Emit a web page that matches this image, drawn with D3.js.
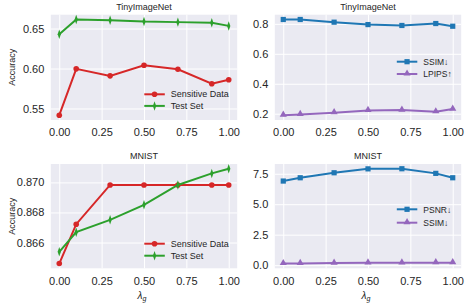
<!DOCTYPE html>
<html>
<head>
<meta charset="utf-8">
<script src="https://cdn.jsdelivr.net/npm/d3@7"></script>
<style>
  body { margin: 0; background: #fff; }
  text { font-family: "Liberation Sans", Arial, sans-serif; fill: #262626; }
</style>
</head>
<body>
<div id="chart"></div>
<script>
// lambda_g values on the x axis
var lambdas = [0, 0.1, 0.3, 0.5, 0.7, 0.9, 1.0];

// TinyImageNet
var tinySensitive = [0.5416, 0.5996, 0.5908, 0.6040, 0.5990, 0.5810, 0.5860];
var tinyTest = [0.6428, 0.6613, 0.6604, 0.6587, 0.6580, 0.6571, 0.6533];
var tinySsim = [0.829, 0.829, 0.811, 0.795, 0.789, 0.802, 0.784];
var tinyLpips = [0.190, 0.195, 0.207, 0.222, 0.224, 0.213, 0.231];

// MNIST
var mnistSensitive = [0.8646, 0.86722, 0.86983, 0.86983, 0.86983, 0.86983, 0.86983];
var mnistTest = [0.86538, 0.86669, 0.86751, 0.86851, 0.86983, 0.8706, 0.87091];
var mnistPsnr = [6.90, 7.17, 7.58, 7.90, 7.91, 7.53, 7.17];
var mnistSsim = [0.13, 0.14, 0.17, 0.19, 0.19, 0.20, 0.20];

// tick labels
var xTicks = [0, 0.25, 0.5, 0.75, 1.0];
var tinyAccTicks = [0.55, 0.60, 0.65];
var tinyQualTicks = [0.2, 0.4, 0.6, 0.8];
var mnistAccTicks = [0.866, 0.868, 0.870];
var mnistQualTicks = [0.0, 2.5, 5.0, 7.5];

var svgWidth = 465;
var svgHeight = 303;

var svg = d3.select("#chart")
    .append("svg")
    .attr("width", svgWidth)
    .attr("height", svgHeight);

var colors = {red: "#d62728", green: "#2ca02c", blue: "#1f77b4", purple: "#9467bd"};

function drawMarker(g, kind, x, y, color) {
    if (kind === "circle") {
        g.append("circle").attr("cx", x).attr("cy", y).attr("r", 2.8).attr("fill", color);
    } else if (kind === "square") {
        g.append("rect").attr("x", x - 2.6).attr("y", y - 2.6)
            .attr("width", 5.2).attr("height", 5.2).attr("fill", color);
    } else if (kind === "triangle") {
        g.append("path").attr("d", d3.symbol().type(d3.symbolTriangle).size(22)())
            .attr("transform", `translate(${x},${y - 0.5})`).attr("fill", color);
    } else if (kind === "thindiamond") {
        g.append("path").attr("d", d3.symbol().type(d3.symbolDiamond).size(26)())
            .attr("transform", `translate(${x},${y}) scale(0.6,1)`).attr("fill", color);
    }
}

function drawPanel(p) {
    var width = p.right - p.left;
    var height = p.bottom - p.top;
    var g = svg.append("g").attr("transform", `translate(${p.left},${p.top})`);

    var allVals = p.series.reduce((a, s) => a.concat(s.values), []);
    var ymin = d3.min(allVals), ymax = d3.max(allVals);
    var pad = (ymax - ymin) * 0.05;

    var x = d3.scaleLinear().domain([-0.05, 1.05]).range([0, width]);
    var y = d3.scaleLinear().domain([ymin - pad, ymax + pad]).range([height, 0]);

    g.append("rect").attr("width", width).attr("height", height).attr("fill", "#eaeaf2");

    var xAxis = g.append("g")
        .attr("transform", `translate(0,${height})`)
        .call(d3.axisBottom(x).tickValues(xTicks).tickSize(-height).tickPadding(p.xPad)
            .tickFormat(d3.format(".2f")));
    var yAxis = g.append("g")
        .call(d3.axisLeft(y).tickValues(p.yTicks).tickSize(-width).tickPadding(6.5)
            .tickFormat(d3.format(p.yFormat)));

    [xAxis, yAxis].forEach(function(a) {
        a.select(".domain").remove();
        a.selectAll("line").attr("stroke", "#fff").attr("stroke-width", 1);
        a.selectAll("text").attr("font-size", 11).attr("fill", "#262626")
            .style("font-family", "'Liberation Sans', Arial, sans-serif");
    });

    var line = d3.line().x((d, i) => x(lambdas[i])).y(d => y(d));

    p.series.forEach(function(s) {
        g.append("path").datum(s.values)
            .attr("d", line)
            .attr("fill", "none")
            .attr("stroke", s.color)
            .attr("stroke-width", 2);
        s.values.forEach(function(v, i) {
            drawMarker(g, s.marker, x(lambdas[i]), y(v), s.color);
        });
    });

    // legend
    p.series.forEach(function(s, i) {
        var ly = p.legendY + i * p.legendStep;
        g.append("line")
            .attr("x1", p.legendX).attr("x2", p.legendX + 20.5)
            .attr("y1", ly).attr("y2", ly)
            .attr("stroke", s.color).attr("stroke-width", 2);
        drawMarker(g, s.marker, p.legendX + 10.25, ly, s.color);
        g.append("text")
            .attr("x", p.legendX + 26.5)
            .attr("y", ly + 3.2)
            .attr("font-size", p.legendFont)
            .text(s.name);
    });

    svg.append("text")
        .attr("x", p.left + width / 2)
        .attr("y", p.titleY)
        .attr("text-anchor", "middle")
        .attr("font-size", 9)
        .text(p.title);

    if (p.ylabel) {
        svg.append("text")
            .attr("transform", `translate(15,${p.top + height / 2}) rotate(-90)`)
            .attr("text-anchor", "middle")
            .attr("font-size", 9)
            .text(p.ylabel);
    }

    if (p.xlabel) {
        var t = svg.append("text")
            .attr("x", p.left + width / 2 - 2)
            .attr("y", 299)
            .attr("text-anchor", "middle")
            .attr("font-size", 10)
            .style("font-style", "italic");
        t.append("tspan").text("λ");
        t.append("tspan").attr("font-size", 7).attr("dy", 2).text("g");
    }
}

var leftX = [50.8, 237.2];
var rightX = [274.8, 461.2];
var topY = [14.7, 120];
var botY = [164, 268.3];

drawPanel({
    left: leftX[0], right: leftX[1], top: topY[0], bottom: topY[1],
    title: "TinyImageNet", titleY: 10, ylabel: "Accuracy",
    yTicks: tinyAccTicks, yFormat: ".2f", xPad: 8.5,
    legendX: 93.5, legendY: 79.6, legendStep: 11.6, legendFont: 9,
    series: [
        {name: "Sensitive Data", values: tinySensitive, color: colors.red, marker: "circle"},
        {name: "Test Set", values: tinyTest, color: colors.green, marker: "thindiamond"}
    ]
});

drawPanel({
    left: rightX[0], right: rightX[1], top: topY[0], bottom: topY[1],
    title: "TinyImageNet", titleY: 10,
    yTicks: tinyQualTicks, yFormat: ".1f", xPad: 8.5,
    legendX: 122, legendY: 47, legendStep: 12.3, legendFont: 8.5,
    series: [
        {name: "SSIM↓", values: tinySsim, color: colors.blue, marker: "square"},
        {name: "LPIPS↑", values: tinyLpips, color: colors.purple, marker: "triangle"}
    ]
});

drawPanel({
    left: leftX[0], right: leftX[1], top: botY[0], bottom: botY[1],
    title: "MNIST", titleY: 158.5, ylabel: "Accuracy", xlabel: true,
    yTicks: mnistAccTicks, yFormat: ".3f", xPad: 9,
    legendX: 93.5, legendY: 79.7, legendStep: 12, legendFont: 9,
    series: [
        {name: "Sensitive Data", values: mnistSensitive, color: colors.red, marker: "circle"},
        {name: "Test Set", values: mnistTest, color: colors.green, marker: "thindiamond"}
    ]
});

drawPanel({
    left: rightX[0], right: rightX[1], top: botY[0], bottom: botY[1],
    title: "MNIST", titleY: 158.5, xlabel: true,
    yTicks: mnistQualTicks, yFormat: ".1f", xPad: 9,
    legendX: 122, legendY: 45.3, legendStep: 13.4, legendFont: 8.5,
    series: [
        {name: "PSNR↓", values: mnistPsnr, color: colors.blue, marker: "square"},
        {name: "SSIM↓", values: mnistSsim, color: colors.purple, marker: "triangle"}
    ]
});
</script>
</body>
</html>
